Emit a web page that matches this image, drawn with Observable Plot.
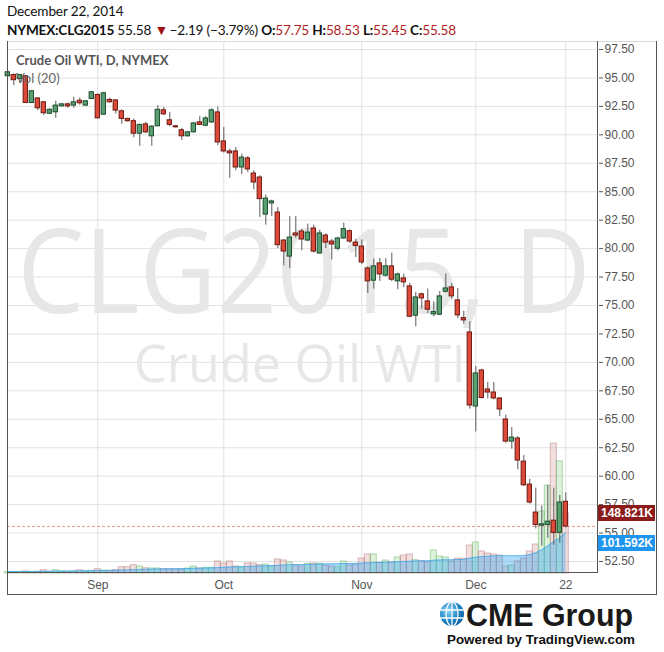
<!DOCTYPE html>
<html><head><meta charset="utf-8">
<script src="https://cdn.jsdelivr.net/npm/d3@7"></script>
<script src="https://cdn.jsdelivr.net/npm/@observablehq/plot@0.6"></script>
<style>
body{margin:0;background:#fff;}
#wrap{position:relative;width:664px;height:652px;overflow:hidden;font-family:Lato,"Open Sans",sans-serif;background:#fff;}
.layer{position:absolute;left:7px;top:41px;}
.layer svg{overflow:visible;background:transparent;}
#hdr1{position:absolute;left:7px;top:3px;font-size:13.6px;letter-spacing:-0.15px;color:#111;}
#hdr2{position:absolute;left:7px;top:21px;font-size:13.6px;letter-spacing:-0.2px;color:#111;white-space:nowrap;}
#hdr2 b{font-weight:700;}
#hdr2 .r{color:#b01e1e;}
.box{position:absolute;}
.lbl{position:absolute;left:598px;width:57px;height:16px;color:#fff;font:bold 12px "Liberation Sans",Arial,sans-serif;line-height:16px;text-align:right;padding-right:2px;box-sizing:border-box;}
#legend1{position:absolute;left:16px;top:52px;font-size:13px;font-weight:700;color:#555;}
#legend2{position:absolute;left:16px;top:70px;font-size:13px;color:#666;}
</style></head><body>
<div id="wrap">
  <div id="hdr1">December 22, 2014</div>
  <div id="hdr2"><b>NYMEX:CLG2015</b> 55.58 <span style="color:#a01010;font-size:14px">&#9660;</span>&thinsp;&minus;2.19 (&minus;3.79%) <b>O:</b><span class="r">57.75</span> <b>H:</b><span class="r">58.53</span> <b>L:</b><span class="r">55.45</span> <b>C:</b><span class="r">55.58</span></div>
  <div class="box" style="left:7px;top:41px;width:650px;height:554px;border-top:1px solid #d8d8d8;"></div>
  <div id="base" class="layer"></div>
  <div id="vol" class="layer"></div>
  <div id="candles" class="layer"></div>
  <div id="legend1">Crude Oil WTI, D, NYMEX</div>
  <div id="legend2">Vol (20)</div>
  <div class="box" style="left:7px;top:41px;width:1px;height:554px;background:#555;"></div>
  <div class="box" style="left:656px;top:41px;width:1px;height:554px;background:#555;"></div>
  <div class="box" style="left:7px;top:594px;width:650px;height:1px;background:#555;"></div>
  <div class="box" style="left:597px;top:41px;width:1px;height:532px;background:#555;"></div>
  <div class="box" style="left:7px;top:572px;width:591px;height:1px;background:#555;"></div>
  <div id="lblVol" class="lbl" style="background:#8c1c1c;">148.821K</div>
  <div id="lblMA" class="lbl" style="background:#1e96f0;">101.592K</div>
  <svg style="position:absolute;left:436px;top:598px;" width="224" height="52">
    <defs>
      <radialGradient id="gl" cx="0.35" cy="0.35" r="0.75">
        <stop offset="0" stop-color="#8fd3f7"/><stop offset="0.6" stop-color="#1c84c6"/><stop offset="1" stop-color="#0b5a9a"/>
      </radialGradient>
      <clipPath id="gc"><circle cx="16" cy="16" r="12"/></clipPath>
    </defs>
    <circle cx="16" cy="16" r="12" fill="url(#gl)"/>
    <g clip-path="url(#gc)" stroke="#fff" stroke-width="1.3" fill="none">
      <line x1="4" y1="12" x2="28" y2="12"/><line x1="4" y1="20" x2="28" y2="20"/>
      <line x1="16" y1="4" x2="16" y2="28"/>
      <ellipse cx="16" cy="16" rx="6" ry="12"/>
    </g>
    <text x="30" y="28" font-family="Liberation Sans, Arial, sans-serif" font-weight="700" font-size="31" fill="#1a1a1a" textLength="167" lengthAdjust="spacingAndGlyphs">CME Group</text>
    <text x="11" y="46" font-family="Liberation Sans, Arial, sans-serif" font-weight="700" font-size="13" fill="#111" textLength="188" lengthAdjust="spacingAndGlyphs">Powered by TradingView.com</text>
  </svg>
</div>
<script>
// ---- data (bar index 0 = Sep 2, 2014; -15 = Aug 11, 2014; 78 = Dec 22, 2014) ----
const firstIndex = -15;
const opens = [95.15,95.26,94.90,95.15,92.80,93.20,92.86,91.85,91.98,92.50,92.68,92.57,93.00,92.57,93.15,
  93.50,91.77,93.07,93.03,92.07,91.40,91.20,90.10,90.92,89.87,90.75,92.16,91.28,90.75,90.40,
  89.87,90.22,91.10,90.80,91.09,91.97,89.42,88.54,88.54,87.13,87.93,86.60,86.25,82.99,83.97,
  83.17,80.71,79.30,81.33,81.50,80.71,81.77,79.57,81.15,80.62,79.99,80.89,81.53,80.53,80.18,
  78.26,77.18,78.70,77.62,78.44,77.12,77.38,76.68,74.10,75.98,75.36,74.22,74.19,76.21,76.59,
  75.45,73.89,72.63,66.12,69.29,67.62,67.35,66.83,64.98,63.04,63.31,61.28,59.26,56.80,55.65,
  55.71,56.09,55.01,57.75];
const highs = [95.60,95.35,95.30,95.20,93.90,93.25,92.90,92.30,92.95,92.72,92.80,93.30,93.25,93.00,93.80,
  93.60,93.75,93.21,93.05,92.20,91.45,91.40,90.95,91.10,90.80,92.57,92.42,91.98,90.78,90.57,
  90.30,91.10,91.63,91.60,92.30,92.44,90.65,88.75,88.90,88.30,88.10,86.85,86.40,84.70,84.26,
  83.60,80.80,82.82,82.82,81.70,82.15,82.06,81.62,81.30,80.82,81.00,82.24,81.65,80.82,80.76,
  78.40,79.08,79.14,79.14,79.60,77.85,77.76,76.94,76.15,76.10,76.44,75.33,76.24,77.76,76.94,
  76.50,74.50,73.57,69.64,69.40,68.23,68.23,66.90,65.36,64.27,63.48,61.81,59.73,58.94,57.38,
  59.20,58.94,58.30,58.53];
const lows = [95.05,94.33,94.56,92.75,92.75,92.13,91.70,91.80,91.45,92.45,92.33,92.33,92.60,92.50,93.10,
  91.40,91.70,92.80,91.83,90.92,91.10,89.75,88.99,90.10,88.99,90.70,91.70,90.70,90.60,89.50,
  89.80,90.15,90.80,90.70,91.00,89.04,88.40,86.17,86.84,86.50,86.70,85.17,82.73,82.06,82.82,
  80.00,78.48,78.25,80.90,79.80,80.60,79.60,79.50,80.00,79.01,79.80,80.80,80.45,79.22,78.60,
  76.06,76.44,77.12,77.50,77.09,76.39,76.56,73.92,73.13,74.68,74.30,74.01,74.10,76.10,75.50,
  73.83,73.34,65.89,63.89,66.77,66.80,66.70,65.24,62.90,62.37,60.55,59.08,57.53,55.36,53.86,
  54.54,53.92,54.10,55.45];
const closes = [95.50,94.80,95.26,92.80,93.83,92.33,91.90,92.20,92.57,92.68,92.50,92.86,92.77,92.95,93.74,
  91.45,93.65,92.86,92.13,91.40,91.20,90.10,90.87,90.22,90.72,92.20,91.80,90.87,90.66,89.87,
  90.22,91.00,90.87,91.44,92.15,89.33,88.54,88.37,87.13,88.00,86.96,85.81,84.35,84.40,84.15,
  80.30,79.74,80.97,81.15,80.80,81.41,79.74,81.33,80.53,80.36,80.89,81.71,80.62,80.24,78.78,
  77.12,78.44,77.73,78.44,77.27,77.73,77.03,74.01,75.71,75.62,74.63,74.42,75.80,76.50,75.80,
  74.13,73.69,66.21,69.03,66.87,67.35,66.83,65.86,63.04,63.39,61.37,59.20,57.68,55.71,55.77,
  56.00,55.01,57.68,55.58];
// volume, thousands of contracts
const volumes = [3.2,3.2,3.2,5.0,3.2,3.2,8.2,3.2,8.2,5.0,3.2,5.0,8.2,5.0,6.7,
  10.7,7.4,6.7,8.2,15.6,15.6,20.6,17.4,13.1,12.4,12.4,10.7,10.7,9.2,9.2,
  12.4,17.4,12.4,14.1,14.1,29.8,24.8,29.8,17.4,15.6,24.8,24.8,20.6,22.3,18.1,
  34.7,32.2,27.3,20.6,17.4,24.0,24.8,24.0,19.8,17.4,15.6,29.8,19.8,22.3,37.2,
  47.1,47.1,26.5,32.2,28.0,39.7,44.6,47.1,33.0,30.5,28.0,57.0,42.2,39.7,29.8,
  36.5,36.5,69.4,76.9,54.6,49.6,47.1,44.6,17.4,19.8,29.8,37.2,54.6,71.9,153.8,
  218.0,322.0,278.0,148.821];
// Vol (20) moving average, thousands
const volMA = [5.0,5.0,5.1,5.2,5.2,5.3,5.5,5.6,5.8,5.9,6.0,6.3,6.4,6.6,6.8,
  7.1,7.4,7.6,7.9,8.4,8.9,9.5,10.1,10.5,10.8,11.1,11.4,11.6,11.9,12.1,
  12.4,12.8,13.1,13.4,13.8,14.6,15.2,16.0,16.4,16.8,17.5,18.1,18.6,19.2,19.5,
  20.3,20.9,21.5,21.8,22.1,22.6,23.0,23.5,23.8,24.0,24.3,24.6,24.8,25.1,25.6,
  26.4,27.2,27.5,27.8,28.2,28.9,29.7,30.5,31.0,31.3,31.6,32.8,33.4,33.9,34.0,
  34.5,34.9,37.8,40.2,41.6,42.8,43.6,44.2,43.9,43.6,44.0,44.5,46.8,51.5,59.0,
  68.5,79.0,88.0,101.592];
const lastClose = 55.58;
const priceTicks = [52.5,55,57.5,60,62.5,65,67.5,70,72.5,75,77.5,80,82.5,85,87.5,90,92.5,95,97.5];
const timeTickIndex = [0,21,44,63,78];
const timeTickLabels = ["Sep","Oct","Nov","Dec","22"];
const watermark1 = "CLG2015, D";
const watermark2 = "Crude Oil WTI";

const bars = opens.map((o,k)=>({i:k+firstIndex,o,h:highs[k],l:lows[k],c:closes[k],v:volumes[k],ma:volMA[k],up:closes[k]>=o}));

const W = 650, H = 554;
const common = {
  width: W, height: H, marginLeft: 0, marginRight: 59, marginTop: 0, marginBottom: 22,
  x: {type:"linear", domain:[-15.05, 83.45]},
  style: {background:"transparent", fontFamily:"'Liberation Sans', Arial, sans-serif", fontSize:"12px", color:"#555"}
};
const yPrice = {domain:[51.445, 98.203]};

const base = Plot.plot({
  ...common,
  y: yPrice,
  marks: [
    Plot.gridY(priceTicks, {stroke:"#e2e2e2", strokeOpacity:1}),
    Plot.gridX(timeTickIndex, {stroke:"#e2e2e2", strokeOpacity:1}),
    Plot.text([watermark1], {frameAnchor:"middle", dx:1, dy:-32, fontSize:118, fill:"#e7e7e7", fontFamily:"'Open Sans', sans-serif"}),
    Plot.text([watermark2], {frameAnchor:"middle", dx:-3, dy:58, fontSize:52, fill:"#e7e7e7", fontFamily:"'Open Sans', sans-serif"}),
    Plot.axisY(priceTicks, {anchor:"right", tickSize:4, tickPadding:2, tickFormat:d=>d.toFixed(2), stroke:"#555", fill:"#555", label:null}),
    Plot.axisX(timeTickIndex, {anchor:"bottom", tickSize:0, tickPadding:7, tickFormat:(d)=>timeTickLabels[timeTickIndex.indexOf(d)], fill:"#555", label:null})
  ]
});
document.getElementById("base").appendChild(base);
// squeeze the big watermark horizontally to the width it spans in the reference
base.querySelectorAll("text").forEach(t => {
  if (t.textContent === watermark1) {
    const w = t.getComputedTextLength();
    const s = 573 / w;
    const tr = t.getAttribute("transform") || "";
    t.setAttribute("transform", tr + ` scale(${s.toFixed(4)},1)`);
  }
});

const volPlot = Plot.plot({
  ...common,
  y: {domain:[0, 532*2.48], axis:null},
  x: {...common.x, axis:null},
  marks: [
    Plot.rect(bars, {x1:d=>d.i-0.5, x2:d=>d.i+0.5, y1:0, y2:"v",
      fill:d=>d.up?"rgba(150,210,150,0.32)":"rgba(215,160,160,0.32)",
      stroke:d=>d.up?"rgba(110,190,110,0.55)":"rgba(190,130,130,0.55)", strokeWidth:1}),
    Plot.areaY(bars, {x:"i", y:"ma", fill:"rgb(40,160,240)", fillOpacity:0.38}),
    Plot.lineY(bars, {x:"i", y:"ma", stroke:"rgb(60,165,235)", strokeWidth:1, strokeOpacity:0.7})
  ]
});
document.getElementById("vol").appendChild(volPlot);

const candles = Plot.plot({
  ...common,
  y: {...yPrice, axis:null},
  x: {...common.x, axis:null},
  marks: [
    Plot.ruleY([lastClose], {stroke:"#e59a88", strokeDasharray:"3,2", strokeWidth:1}),
    Plot.ruleX(bars, {x:"i", y1:"l", y2:"h", stroke:"#5a5a5a", strokeWidth:1}),
    Plot.rect(bars, {x1:d=>d.i-0.36, x2:d=>d.i+0.36, y1:"o", y2:"c",
      fill:d=>d.up?"#5a9f72":"#dd4a3a", stroke:d=>d.up?"#1d4d2c":"#6e1a12", strokeWidth:1})
  ]
});
document.getElementById("candles").appendChild(candles);

// value labels on the price scale, placed through the volume scale
const vy = volPlot.scale("y");
const top0 = 41;
document.getElementById("lblVol").style.top = (top0 + vy.apply(volumes[volumes.length-1]) - 8) + "px";
document.getElementById("lblMA").style.top = (top0 + vy.apply(volMA[volMA.length-1]) - 8 + 11) + "px";
</script>
</body></html>
